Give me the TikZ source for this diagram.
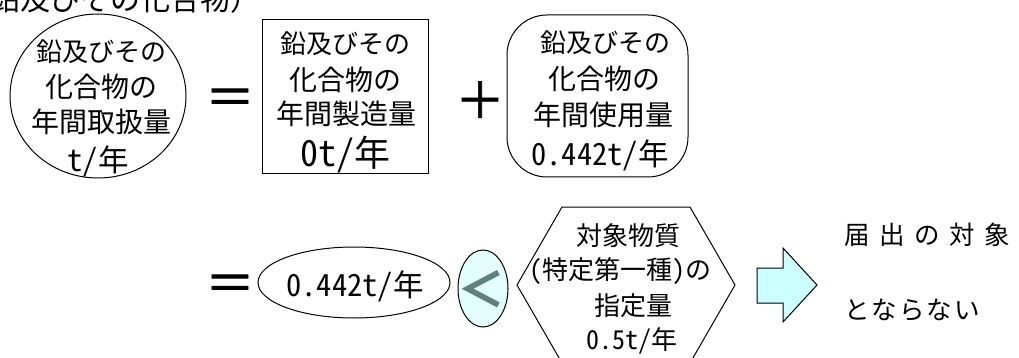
\documentclass[tikz,border=0pt]{standalone}
\usepackage{fontspec}
\newfontfamily\jp{Noto Sans CJK JP}
\newfontfamily\jphw[RawFeature=+hwid]{Noto Sans CJK JP}
\newfontfamily\jpthick[FakeBold=1.2]{Noto Sans CJK JP}
\usetikzlibrary{shapes.geometric}
\definecolor{palecyan}{HTML}{E3FFFF}
\definecolor{arrowcyan}{HTML}{CCFFFF}
\definecolor{ltgray}{HTML}{5F8080}
\begin{document}
\begin{tikzpicture}[x=1pt,y=-1pt,
  outline/.style={draw=black,line width=1pt,inner sep=0pt},
  txt/.style={inner sep=0pt,font=\jp\fontsize{28}{30}\selectfont},
  firsttxt/.style={inner sep=0pt,font=\jp\fontsize{26}{30}\selectfont},
  hextxt/.style={inner sep=0pt,font=\jphw\fontsize{26}{30}\selectfont},
  numtxt/.style={inner sep=0pt,font=\jphw\fontsize{30.5}{30}\selectfont},
  bignum/.style={inner sep=0pt,font=\jphw\fontsize{36}{36}\selectfont},
  restxt/.style={inner sep=0pt,anchor=west,font=\jp\fontsize{25.5}{30}\selectfont},
  sym/.style={inner sep=0pt,font=\jpthick\fontsize{50}{50}\selectfont},
]
\useasboundingbox (0,0) rectangle (1019,358);
\clip (0,0) rectangle (1019,358);
\fill[white] (0,0) rectangle (1019,358);

% cut-off heading
\node[inner sep=0pt,anchor=base west,font=\jp\fontsize{30}{30}\selectfont] (head) at (-10,11) {鉛及びその化合物）};

% top row shapes
\node[outline,ellipse,minimum width=176pt,minimum height=164pt] (total) at (98,96) {};
\node[outline,rectangle,minimum width=166pt,minimum height=154pt] (made) at (345,97) {};
\node[outline,rectangle,rounded corners=40pt,minimum width=181pt,minimum height=162pt] (used) at (597.5,96) {};

% top row texts
\node[firsttxt] (ta1) at (101,52) {鉛及びその};
\node[txt] (ta2) at (101,87) {化合物の};
\node[txt] (ta3) at (101,122) {年間取扱量};
\node[numtxt] (ta4) at (98,161) {t/年};

\node[firsttxt] (tb1) at (345,44) {鉛及びその};
\node[txt] (tb2) at (345,80) {化合物の};
\node[txt] (tb3) at (346,114) {年間製造量};
\node[bignum] (tb4) at (345,155) {0t/年};

\node[firsttxt] (tc1) at (605,43) {鉛及びその};
\node[txt] (tc2) at (604,79) {化合物の};
\node[txt] (tc3) at (603,115) {年間使用量};
\node[numtxt] (tc4) at (600,155) {0.442t/年};

\node[sym] (eq1) at (230,102) {＝};
\node[sym] (plus) at (480,100) {＋};

% bottom row
\node[sym] (eq2) at (230,288) {＝};
\node[outline,ellipse,minimum width=192pt,minimum height=71pt] (amount) at (354,282.5) {};
\node[numtxt] (amounttxt) at (355,286) {0.442t/年};
\node[outline,ellipse,fill=palecyan,minimum width=50pt,minimum height=77pt] (lt) at (483,288.5) {};
\node[inner sep=0pt,text=ltgray,font=\jp\bfseries\fontsize{48}{48}\selectfont] (ltsym) at (481,289) {＜};

\draw[line width=1pt] (517,285) -- (562,207) -- (690,207) -- (735,285) -- (690,363) -- (562,363) -- cycle;
\node[hextxt] (td1) at (628,236) {対象物質};
\node[hextxt] (td2) at (620,271) {(特定第一種)の};
\node[hextxt] (td3) at (633,306) {指定量};
\node[hextxt] (td4) at (632,341) {0.5t/年};

\draw[line width=1pt,fill=arrowcyan] (757,268) -- (783,268) -- (783,248) -- (817,285) -- (783,322) -- (783,303) -- (757,303) -- cycle;

\node[restxt] (res1) at (844,235) {届\hspace{9.5pt}出\hspace{9.5pt}の\hspace{9.5pt}対\hspace{9.5pt}象};
\node[restxt] (res2) at (844,310) {と\hspace{2pt}な\hspace{2pt}ら\hspace{2pt}な\hspace{2pt}い};
\end{tikzpicture}
\end{document}
